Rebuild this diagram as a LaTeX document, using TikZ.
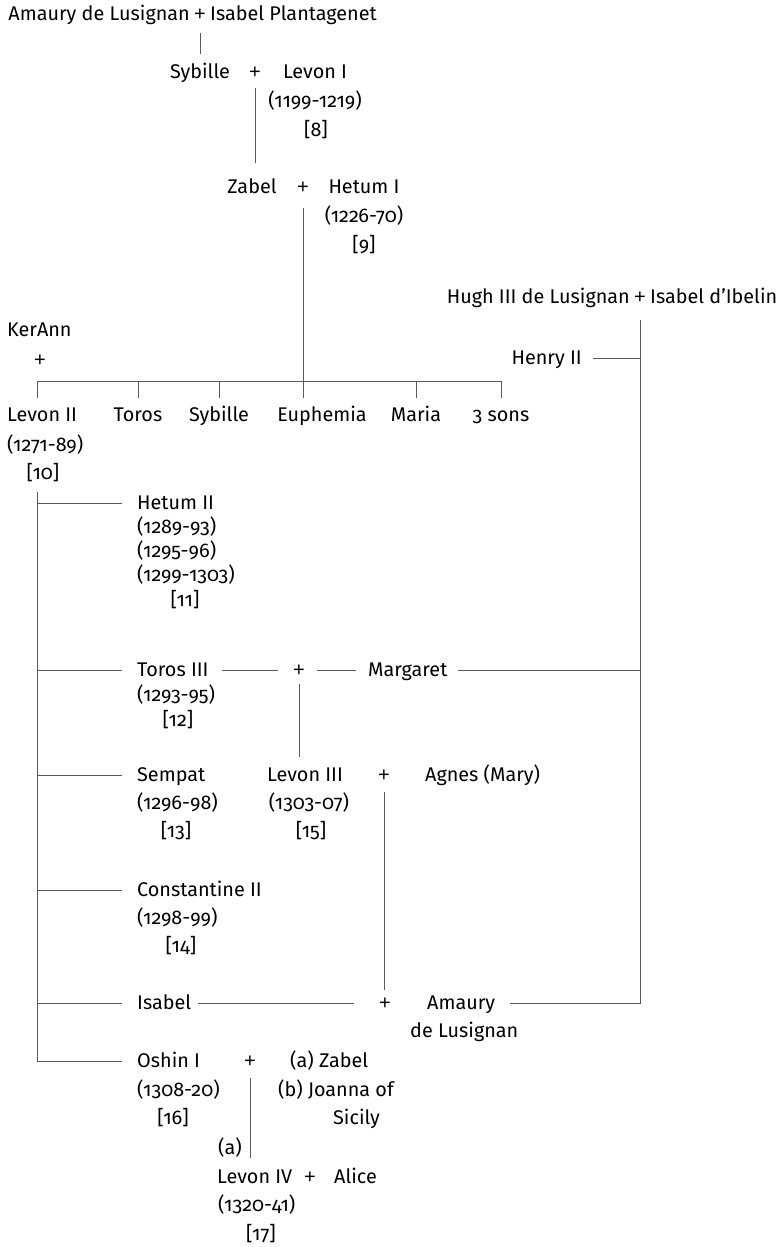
\documentclass[tikz,border=0pt]{standalone}
\usepackage{fontspec}
\setmainfont{Fira Sans}[Numbers=OldStyle]
\newfontfamily\plusfont{Liberation Sans}
\usetikzlibrary{calc}
\begin{document}
\begin{tikzpicture}[x=1pt,y=-1pt,
  every node/.style={inner sep=0pt, font=\fontsize{19.8}{26}\selectfont},
  nl/.style={anchor=base west},
  nr/.style={anchor=base east},
  nc/.style={anchor=base},
  pl/.style={anchor=base, font=\fontsize{20}{26}\plusfont},
  link/.style={draw=black!65, line width=0.8pt},
]
\useasboundingbox (0,0) rectangle (784,1247);

% --- first generations
\node[nr] (amL) at (190,21) {Amaury de Lusignan};
\node[pl] (p0) at (200,21) {+};
\node[nl] (amR) at (210,21) {Isabel Plantagenet};

\node[nc] (syb) at (200,78) {Sybille};
\node[pl] (p1) at (255,78) {+};
\node[nc] (lev1) at (315,78) {Levon I};
\node[nc] (lev1d) at (315,107) {(1199-1219)};
\node[nc] (lev1n) at (316,136) {[8]};

\node[nc] (zab) at (252,193) {Zabel};
\node[pl] (p2) at (303,193) {+};
\node[nc] (het1) at (364,193) {Hetum I};
\node[nc] (het1d) at (364,222) {(1226-70)};
\node[nc] (het1n) at (364,251) {[9]};

% --- Lusignan of Cyprus
\node[nr] (hugh) at (630,303) {Hugh III de Lusignan};
\node[pl] (p3) at (640,303) {+};
\node[nl] (ibel) at (650,303) {Isabel d’Ibelin};
\node[nr] (henry) at (582,364) {Henry II};

\node[nl] (ker) at (7,336) {KerAnn};
\node[pl] (kplus) at (40,366) {+};

% --- children of Hetum I
\node[nl] (lev2) at (7,421) {Levon II};
\node[nc] (toros) at (138,421) {Toros};
\node[nc] (syb2) at (219,421) {Sybille};
\node[nc] (euph) at (322,421) {Euphemia};
\node[nc] (maria) at (416,421) {Maria};
\node[nc] (sons) at (501,421) {3 sons};
\node[nl] (lev2d) at (7,451) {(1271-89)};
\node[nc] (lev2n) at (43,479) {[10]};

% --- children of Levon II
\node[nl] (het2) at (137,509) {Hetum II};
\node[nl] (het2a) at (137,533) {(1289-93)};
\node[nl] (het2b) at (137,557) {(1295-96)};
\node[nl] (het2c) at (137,581) {(1299-1303)};
\node[nc] (het2n) at (185,606) {[11]};

\node[nl] (tor3) at (137,676) {Toros III};
\node[nl] (tor3d) at (137,701) {(1293-95)};
\node[nc] (tor3n) at (178,726) {[12]};
\node[pl] (p4) at (299,676) {+};
\node[nl] (marg) at (368,676) {Margaret};

\node[nl] (semp) at (137,781) {Sempat};
\node[nl] (sempd) at (137,809) {(1296-98)};
\node[nc] (sempn) at (176,837) {[13]};
\node[nl] (lev3) at (267,781) {Levon III};
\node[nc] (lev3d) at (309,809) {(1303-07)};
\node[nc] (lev3n) at (311,837) {[15]};
\node[pl] (p5) at (384,781) {+};
\node[nl] (agnes) at (425,781) {Agnes (Mary)};

\node[nl] (cons) at (137,896) {Constantine II};
\node[nl] (consd) at (137,924) {(1298-99)};
\node[nc] (consn) at (181,952) {[14]};

\node[nl] (isab) at (137,1009) {Isabel};
\node[pl] (p6) at (385,1009) {+};
\node[nl] (amau) at (427,1009) {Amaury};
\node[nl] (amaud) at (410,1037) {de Lusignan};

\node[nl] (oshin) at (137,1067) {Oshin I};
\node[nl] (oshind) at (137,1096) {(1308-20)};
\node[nc] (oshinn) at (173,1124) {[16]};
\node[pl] (p7) at (250,1067) {+};
\node[nl] (wa) at (290,1067) {(a) Zabel};
\node[nl] (wb) at (278,1096) {(b) Joanna of};
\node[nl] (wb2) at (333,1124) {Sicily};
\node[nl] (wmark) at (218,1154) {(a)};

\node[nl] (lev4) at (217,1183) {Levon IV};
\node[pl] (p8) at (310,1183) {+};
\node[nl] (alice) at (334,1183) {Alice};
\node[nl] (lev4d) at (218,1211) {(1320-41)};
\node[nc] (lev4n) at (261,1240) {[17]};

% --- descent lines
\draw[link] ($(p0.base)+(0,12)$) -- ($(p0.base |- syb.base)+(0,-24)$);
\draw[link] ($(p1.base)+(0,10)$) -- ($(p1.base |- zab.base)+(0,-30)$);
\draw[link] ($(p2.base)+(0,15)$) -- ($(p2.base |- euph.base)+(0,-23)$);

% sibling bar and ticks
\draw[link] ($(lev2.base west)+(30,-23)$) |- ($(sons.base)+(0,-40)$) -- ($(sons.base)+(0,-23)$);
\foreach \c in {toros,syb2,maria}
  \draw[link] ($(\c.base)+(0,-40)$) -- ($(\c.base)+(0,-23)$);

% Lusignan line on the right
\draw[link] ($(p3.base)+(0,17)$) -- ($(p3.base |- amau.base)+(0,-6)$) -- ($(amau.base east)+(15,-6)$);
\draw[link] ($(henry.base east)+(11,-6)$) -- ($(p3.base |- henry.base)+(0,-6)$);
\draw[link] ($(marg.base east)+(10,-6)$) -- ($(p3.base |- marg.base)+(0,-6)$);

% children of Levon II
\draw[link] ($(lev2.base west)+(30,71)$) |- ($(oshin.base west)+(-15,-6)$);
\foreach \c in {het2,tor3,semp,cons,isab}
  \draw[link] ($(\c.base west)+(-100,-6)$) -- ($(\c.base west)+(-15,-6)$);

% Toros III + Margaret
\draw[link] ($(tor3.base east)+(13,-6)$) -- ($(p4.base)+(-21,-6)$);
\draw[link] ($(p4.base)+(18,-6)$) -- ($(marg.base west)+(-12,-6)$);
\draw[link] ($(p4.base)+(0,8)$) -- ($(p4.base |- lev3.base)+(0,-24)$);

% Levon III + Agnes, Isabel + Amaury
\draw[link] ($(p5.base)+(0,11)$) -- ($(p5.base |- p6.base)+(0,-19)$);
\draw[link] ($(isab.base east)+(7,-6)$) -- ($(p6.base)+(-31,-6)$);

% Oshin I
\draw[link] ($(p7.base)+(0,11)$) -- ($(p7.base |- lev4.base)+(0,-25)$);
\end{tikzpicture}
\end{document}
